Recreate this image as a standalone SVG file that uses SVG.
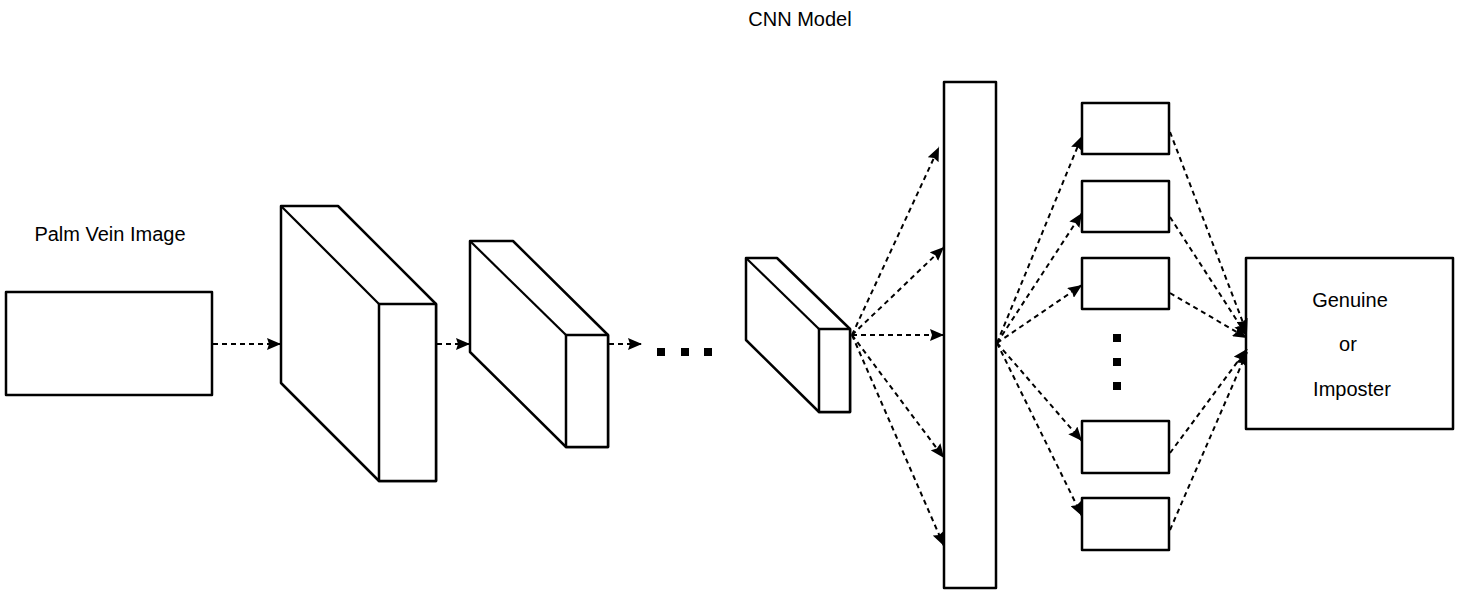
<svg xmlns="http://www.w3.org/2000/svg" width="1464" height="595" viewBox="0 0 1464 595">
<defs>
<marker id="ah" viewBox="0 0 14 12" refX="14" refY="6" markerWidth="14" markerHeight="12" markerUnits="userSpaceOnUse" orient="auto">
<path d="M0,0 L14,6 L0,12 L2,6 Z" fill="#000"/>
</marker>
</defs>
<style>
.b{fill:#fff;stroke:#000;stroke-width:2.5;stroke-linejoin:round}
.e{fill:none;stroke:#000;stroke-width:2.2}
.c{fill:none;stroke:#000;stroke-width:2;stroke-dasharray:5 4;marker-end:url(#ah)}
.t{font-family:"Liberation Sans",Arial,sans-serif;font-size:20px;fill:#000}
.d{fill:#000}
</style>
<rect width="1464" height="595" fill="#fff"/>
<text class="t" x="800" y="26" text-anchor="middle">CNN Model</text>
<g id="input">
<rect class="b" x="6" y="292" width="206" height="103"/>
<text class="t" x="110" y="241" text-anchor="middle">Palm Vein Image</text>
</g>
<g id="conv1">
<polygon class="b" points="281,206 338,206 436,304 436,481 379,481 281,383"/>
<line class="e" x1="281" y1="206" x2="379" y2="304"/>
<rect class="b" x="379" y="304" width="57" height="177"/>
</g>
<g id="conv2">
<polygon class="b" points="470,241 513,241 608,335 608,447 566,447 470,352"/>
<line class="e" x1="470" y1="241" x2="566" y2="335"/>
<rect class="b" x="566" y="335" width="42" height="112"/>
</g>
<g id="ellipsis-h">
<rect class="d" x="657" y="348" width="8" height="8"/>
<rect class="d" x="681" y="348" width="8" height="8"/>
<rect class="d" x="704" y="348" width="8" height="8"/>
</g>
<g id="conv3">
<polygon class="b" points="746,258 777,258 850,329 850,412 819,412 746,340"/>
<line class="e" x1="746" y1="258" x2="819" y2="329"/>
<rect class="b" x="819" y="329" width="31" height="83"/>
</g>
<g id="fc">
<rect class="b" x="944" y="82" width="52" height="506"/>
</g>
<g id="n1"><rect class="b" x="1082" y="103" width="87" height="51"/></g>
<g id="n2"><rect class="b" x="1082" y="181" width="87" height="51"/></g>
<g id="n3"><rect class="b" x="1082" y="258" width="87" height="51"/></g>
<g id="ellipsis-v">
<rect class="d" x="1113" y="334" width="8" height="8"/>
<rect class="d" x="1113" y="358" width="8" height="8"/>
<rect class="d" x="1113" y="382" width="8" height="8"/>
</g>
<g id="n4"><rect class="b" x="1082" y="421" width="87" height="52"/></g>
<g id="n5"><rect class="b" x="1082" y="498" width="87" height="52"/></g>
<g id="output">
<rect class="b" x="1246" y="258" width="207" height="171"/>
<text class="t" x="1350" y="307" text-anchor="middle">Genuine</text>
<text class="t" x="1348" y="351" text-anchor="middle">or</text>
<text class="t" x="1352" y="396" text-anchor="middle">Imposter</text>
</g>
<g id="connectors">
<line class="c" x1="213" y1="344" x2="281" y2="344"/>
<line class="c" x1="437" y1="344" x2="470" y2="344"/>
<line class="c" x1="609" y1="344" x2="642" y2="344"/>
<line class="c" x1="852" y1="335" x2="939" y2="147"/>
<line class="c" x1="852" y1="335" x2="944" y2="247"/>
<line class="c" x1="852" y1="335" x2="944" y2="335"/>
<line class="c" x1="852" y1="335" x2="944" y2="458"/>
<line class="c" x1="852" y1="335" x2="944" y2="546"/>
<line class="c" x1="997" y1="343" x2="1082" y2="136"/>
<line class="c" x1="997" y1="343" x2="1082" y2="213"/>
<line class="c" x1="997" y1="343" x2="1082" y2="285"/>
<line class="c" x1="997" y1="343" x2="1082" y2="441"/>
<line class="c" x1="997" y1="343" x2="1082" y2="516"/>
<line class="c" x1="1170" y1="132" x2="1247" y2="333"/>
<line class="c" x1="1170" y1="217" x2="1247" y2="336"/>
<line class="c" x1="1170" y1="293" x2="1247" y2="338"/>
<line class="c" x1="1170" y1="453" x2="1247" y2="349"/>
<line class="c" x1="1170" y1="530" x2="1247" y2="352"/>
</g>
</svg>
